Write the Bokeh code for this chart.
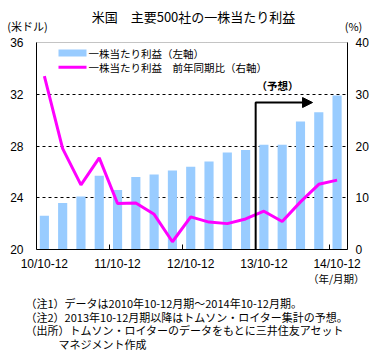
from bokeh.plotting import figure
from bokeh.models import (Range1d, LinearAxis, FixedTicker, Label, BoxAnnotation,
                          Arrow, NormalHead)
from bokeh.embed import file_html
from bokeh.resources import INLINE

# ---- data ----
quarters = ["10/10-12", "11/1-3", "11/4-6", "11/7-9", "11/10-12", "12/1-3", "12/4-6",
            "12/7-9", "12/10-12", "13/1-3", "13/4-6", "13/7-9", "13/10-12", "14/1-3",
            "14/4-6", "14/7-9", "14/10-12"]
eps = [22.6, 23.6, 24.1, 25.7, 24.6, 25.6, 25.8, 26.1, 26.4, 26.8, 27.5, 27.7,
       28.1, 28.1, 29.9, 30.6, 31.9]
yoy = [33.5, 19.5, 12.5, 17.7, 8.9, 9.0, 6.8, 1.5, 6.3, 5.3, 5.0, 5.9,
       7.4, 5.4, 9.2, 12.6, 13.4]
tick_labels = ["10/10-12", "11/10-12", "12/10-12", "13/10-12", "14/10-12"]
left_ticks = [20, 24, 28, 32, 36]
right_ticks = [0, 10, 20, 30, 40]
forecast_start = 11.55
forecast_end = 14.66
forecast_level = 28.4

idx = list(range(len(quarters)))
major = [quarters.index(t) for t in tick_labels]

JP = "Noto Sans CJK JP"
NUM = "Liberation Sans"

p = figure(width=390, height=360, x_range=Range1d(-0.43, 16.57), y_range=Range1d(20, 36),
           output_backend="svg", toolbar_location=None,
           min_border_left=36, min_border_right=43, min_border_top=42, min_border_bottom=111)
p.extra_y_ranges = {"pct": Range1d(0, 40)}
p.background_fill_color = "white"
p.outline_line_color = "#888888"
p.outline_line_dash = "1 1"

# left axis
ya = p.yaxis[0]
ya.ticker = FixedTicker(ticks=left_ticks)
ya.major_tick_in = 0
ya.major_tick_out = 0
ya.minor_tick_in = 0
ya.minor_tick_out = 0
ya.major_label_standoff = 13
ya.major_label_text_font = NUM
ya.major_label_text_font_size = "12px"
ya.major_label_text_color = "black"
ya.axis_line_color = "black"

# right axis
ra = LinearAxis(y_range_name="pct", ticker=FixedTicker(ticks=right_ticks))
ra.major_tick_in = 0
ra.major_tick_out = 0
ra.minor_tick_in = 0
ra.minor_tick_out = 0
ra.major_label_standoff = 8
ra.major_label_text_font = NUM
ra.major_label_text_font_size = "12px"
ra.major_label_text_color = "black"
ra.axis_line_color = "black"
p.add_layout(ra, "right")

# bottom axis
xa = p.xaxis[0]
xa.ticker = FixedTicker(ticks=major, minor_ticks=[m - 0.44 for m in major])
xa.major_label_overrides = {m: t for m, t in zip(major, tick_labels)}
xa.major_tick_in = 0
xa.major_tick_out = 0
xa.minor_tick_in = 5
xa.minor_tick_out = 0
xa.minor_tick_line_color = "black"
xa.major_label_standoff = 7
xa.major_label_text_font = NUM
xa.major_label_text_font_size = "12px"
xa.major_label_text_color = "black"
xa.axis_line_color = "black"

p.xgrid.visible = False
p.ygrid.ticker = FixedTicker(ticks=[24, 28, 32])
p.ygrid.grid_line_color = "black"
p.ygrid.grid_line_dash = "3 3"
p.ygrid.grid_line_width = 1

# bars and line
p.vbar(x=idx, top=eps, bottom=20, width=0.5, fill_color="#99CCFF", line_color=None)
p.line(idx, yoy, y_range_name="pct", line_color="#FF00FF", line_width=3)

# forecast marker
p.line([forecast_start, forecast_start, forecast_end - 0.4], [0, forecast_level, forecast_level],
       y_range_name="pct", line_color="black", line_width=2)
p.add_layout(Arrow(end=NormalHead(size=10, fill_color="black", line_color="black"),
                   x_start=forecast_end - 0.5, y_start=forecast_level,
                   x_end=forecast_end, y_end=forecast_level, y_range_name="pct",
                   line_color="black", line_width=2))


def lab(ix, iy, text, size="10.5px", align="left", font=JP, bold=False, place=None,
        lh=1.2):
    l = Label(x=ix, y=iy, x_units="canvas", y_units="canvas", text=text,
              text_font=font, text_font_size=size, text_align=align,
              text_baseline="middle", text_color="black", text_line_height=lh,
              text_font_style="bold" if bold else "normal")
    if place:
        p.add_layout(l, place)
    else:
        p.add_layout(l)


lab(193, 16, "米国　主要500社の一株当たり利益", size="13px", align="center", place="above")
lab(27, 25, "(米ドル)", size="11px", align="center", place="above")
lab(353, 25, "(%)", size="11px", align="center", place="right")
lab(277, 85, "（予想）", size="10.5px", align="center", bold=True)
lab(364, 278, "（年/月期）", size="10.5px", align="right", place="below")

# legend
FX, FY = 36, 249
p.add_layout(BoxAnnotation(left=58 - FX, right=86 - FX, top=FY - 49, bottom=FY - 56,
                           left_units="screen", right_units="screen", top_units="screen",
                           bottom_units="screen", fill_color="#99CCFF", fill_alpha=1,
                           line_color=None))
p.add_layout(BoxAnnotation(left=58 - FX, right=86 - FX, top=FY - 65.2, bottom=FY - 68.2,
                           left_units="screen", right_units="screen", top_units="screen",
                           bottom_units="screen", fill_color="#FF00FF", fill_alpha=1,
                           line_color=None))
lab(88, 53, "一株当たり利益（左軸）", size="10.5px")
lab(88, 67, "一株当たり利益　前年同期比（右軸）", size="10.5px")

# footnotes (one multi-line label)
notes = ("（注1）データは2010年10-12月期～2014年10-12月期。\n"
         "（注2）2013年10-12月期以降はトムソン・ロイター集計の予想。\n"
         "（出所）トムソン・ロイターのデータをもとに三井住友アセット\n"
         "　　　マネジメント作成")
p.add_layout(Label(x=25, y=323, x_units="canvas", y_units="canvas", text=notes,
                   text_font=JP, text_font_size="11px", text_align="left",
                   text_baseline="middle", text_color="black", text_line_height=0.87),
             "below")

open("out.html", "w").write(file_html(p, INLINE))
